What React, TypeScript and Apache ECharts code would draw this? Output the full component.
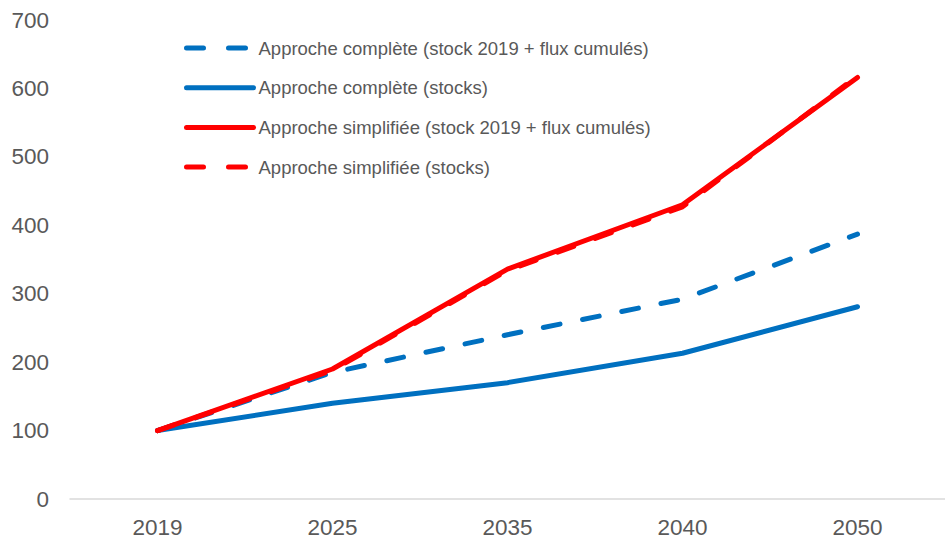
import React, { useEffect, useRef } from "react";
import * as echarts from "echarts";

const categories = ["2019", "2025", "2035", "2040", "2050"];
const completeFlux = [100, 185, 240, 292, 387];
const completeStocks = [100, 140, 170, 213, 281];
const simplifieeFlux = [100, 190, 336, 430, 616];
const simplifieeStocks = [100, 188, 334, 427, 618];
const yTicks = { min: 0, max: 700, interval: 100 };

const BLUE = "#0070C0";
const RED = "#FF0000";
const FONT = "Liberation Sans, Arial, sans-serif";

export default function App() {
  const ref = useRef<HTMLDivElement>(null);
  useEffect(() => {
    if (!ref.current) return;
    const chart = echarts.init(ref.current, undefined, { renderer: "svg" });
    const dash = [17, 23];
    const legendDash = [17, 25];
    const names = [
      "Approche complète (stock 2019 + flux cumulés)",
      "Approche complète (stocks)",
      "Approche simplifiée (stock 2019 + flux cumulés)",
      "Approche simplifiée (stocks)",
    ];
    const mk = (name: string, data: number[], color: string, dashed: boolean) => ({
      name,
      type: "line",
      data,
      symbol: "none",
      showSymbol: false,
      lineStyle: { color, width: 5, type: dashed ? dash : "solid", cap: "round", join: "round" },
      itemStyle: { color },
    });
    const legendItem = (name: string, color: string, dashed: boolean) => ({
      name,
      itemStyle: { color: "rgba(0,0,0,0)", borderColor: "rgba(0,0,0,0)", borderWidth: 0 },
      lineStyle: { color, width: 5, type: dashed ? legendDash : "solid", cap: "round" },
    });
    chart.setOption({
      animation: false,
      grid: { left: 70, right: 0, top: 20, bottom: 44, containLabel: false },
      legend: {
        orient: "vertical",
        left: 184,
        top: 38,
        padding: 0,
        itemWidth: 67,
        itemHeight: 20,
        itemGap: 19.7,
        itemStyle: { color: "rgba(0,0,0,0)", borderColor: "rgba(0,0,0,0)", borderWidth: 0 },
        lineStyle: { width: 5, cap: "round" },
        data: [
          legendItem(names[0], BLUE, true),
          legendItem(names[1], BLUE, false),
          legendItem(names[2], RED, false),
          legendItem(names[3], RED, true),
        ],
        textStyle: { color: "#595959", fontSize: 18.5, lineHeight: 20, fontFamily: FONT },
      },
      xAxis: {
        type: "category",
        data: categories,
        boundaryGap: true,
        axisLine: { show: true, lineStyle: { color: "#D9D9D9", width: 1.5 } },
        axisTick: { show: false },
        axisLabel: { color: "#595959", fontSize: 22.5, margin: 17, fontFamily: FONT },
      },
      yAxis: {
        type: "value",
        min: yTicks.min,
        max: yTicks.max,
        interval: yTicks.interval,
        splitLine: { show: false },
        axisLine: { show: false },
        axisTick: { show: false },
        axisLabel: { color: "#595959", fontSize: 22.5, margin: 21, fontFamily: FONT },
      },
      series: [
        mk(names[0], completeFlux, BLUE, true),
        mk(names[1], completeStocks, BLUE, false),
        mk(names[2], simplifieeFlux, RED, false),
        mk(names[3], simplifieeStocks, RED, true),
      ],
    });
    return () => chart.dispose();
  }, []);
  return <div ref={ref} style={{ width: 945, height: 543, position: "absolute", left: 0, top: 0 }} />;
}
